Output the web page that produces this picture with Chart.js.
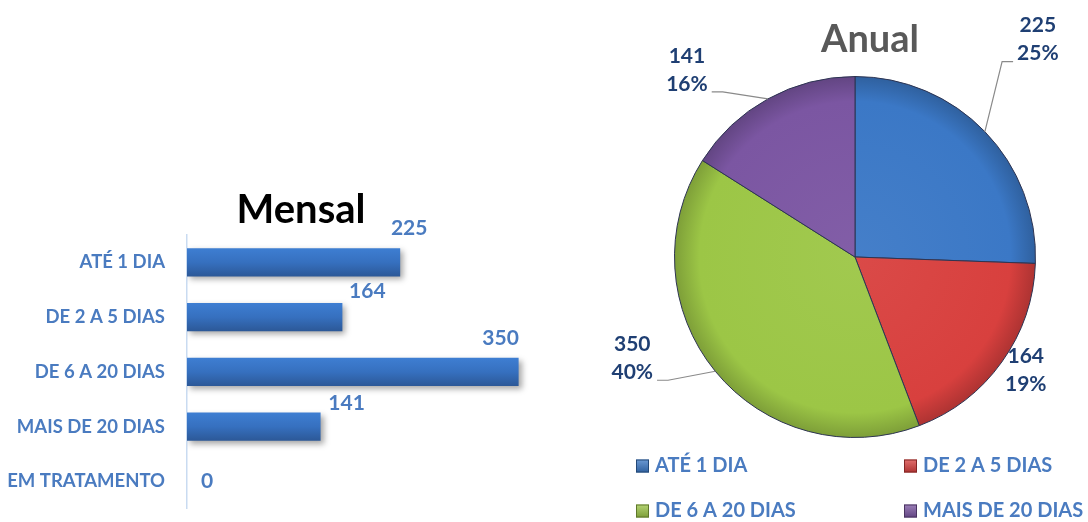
<!DOCTYPE html>
<html lang="pt">
<head>
<meta charset="utf-8">
<title>Mensal / Anual</title>
<script src="https://cdn.jsdelivr.net/npm/chart.js@4.4.1/dist/chart.umd.min.js"></script>
<style>
  html, body { margin: 0; padding: 0; background: #fff; }
  body { width: 1088px; height: 522px; position: relative; overflow: hidden; }
  #barBox { position: absolute; left: 0; top: 150px; width: 602px; height: 392px; }
  #pieBox { position: absolute; left: 600px; top: 0; width: 488px; height: 522px; }
</style>
</head>
<body>
<div id="barBox"><canvas id="mensalChart"></canvas></div>
<div id="pieBox"><canvas id="anualChart"></canvas></div>
<script>
// values
const mensalCategories = ['ATÉ 1 DIA', 'DE 2 A 5 DIAS', 'DE 6 A 20 DIAS', 'MAIS DE 20 DIAS', 'EM TRATAMENTO'];
const mensalValues = [225, 164, 350, 141, 0];
const mensalAxisMax = 438;

const anualCategories = ['ATÉ 1 DIA', 'DE 2 A 5 DIAS', 'DE 6 A 20 DIAS', 'MAIS DE 20 DIAS'];
const anualValues = [225, 164, 350, 141];
const anualPercents = ['25%', '19%', '40%', '16%'];
const anualColors = ['#3b78c6', '#d8403e', '#9cc646', '#7b56a2'];

const labelBlue = '#4a7bc0';
const navy = '#1f3f73';

Chart.defaults.font.family = 'Lato, "Open Sans", sans-serif';

// lighten (amt > 0) or darken (amt < 0) a hex colour
function shade(hex, amt) {
  const n = parseInt(hex.slice(1), 16);
  const ch = [(n >> 16) & 255, (n >> 8) & 255, n & 255].map(c =>
    Math.round(amt > 0 ? c + (255 - c) * amt : c * (1 + amt)));
  return 'rgb(' + ch.join(',') + ')';
}

function barFill(context) {
  const chart = context.chart;
  if (!chart.chartArea || context.dataIndex === undefined) return '#3670bd';
  const yScale = chart.scales.y;
  const y = yScale.getPixelForValue(context.dataIndex);
  const h = yScale.height / mensalCategories.length * 0.515 / 2;
  const g = chart.ctx.createLinearGradient(0, y - h, 0, y + h);
  g.addColorStop(0, '#3e7ed2');
  g.addColorStop(0.5, '#3670bf');
  g.addColorStop(1, '#2c5897');
  return g;
}

function pieFill(context) {
  const base = anualColors[context.dataIndex] || anualColors[0];
  const chart = context.chart;
  const area = chart.chartArea;
  if (!area || context.dataIndex === undefined) return base;
  const cx = (area.left + area.right) / 2, cy = (area.top + area.bottom) / 2;
  const r = Math.min(area.width, area.height) / 2;
  const g = chart.ctx.createRadialGradient(cx, cy, 0, cx, cy, r);
  g.addColorStop(0, shade(base, 0.05));
  g.addColorStop(0.86, base);
  g.addColorStop(1, shade(base, -0.2));
  return g;
}

// soft drop shadow under the bars
const barShadow = {
  id: 'barShadow',
  beforeDatasetsDraw(chart) {
    const ctx = chart.ctx;
    ctx.save();
    ctx.shadowColor = 'rgba(0,0,0,0.35)';
    ctx.shadowBlur = 6;
    ctx.shadowOffsetX = 3;
    ctx.shadowOffsetY = 3;
  },
  afterDatasetsDraw(chart) {
    chart.ctx.restore();
  }
};

// value above each bar
const barValueLabels = {
  id: 'barValueLabels',
  afterDraw(chart, args, opts) {
    const ctx = chart.ctx;
    const data = chart.data.datasets[0].data;
    ctx.save();
    ctx.font = opts.font;
    ctx.fillStyle = opts.color;
    ctx.textAlign = 'center';
    ctx.textBaseline = 'middle';
    chart.getDatasetMeta(0).data.forEach((bar, i) => {
      const off = opts.offsets[i] || [12, -30];
      ctx.fillText(String(data[i]), bar.x + off[0], bar.y + off[1]);
    });
    ctx.restore();
  }
};

const pieTitle = {
  id: 'pieTitle',
  afterDraw(chart, args, o) {
    const ctx = chart.ctx;
    ctx.save();
    ctx.font = o.font;
    ctx.fillStyle = o.color;
    ctx.textAlign = 'center';
    ctx.textBaseline = 'alphabetic';
    ctx.fillText(o.text, o.x, o.y);
    ctx.restore();
  }
};

// "value / percent" labels outside the slices, with leader lines
const pieLabels = {
  id: 'pieLabels',
  afterDraw(chart, args, o) {
    const ctx = chart.ctx;
    const data = chart.data.datasets[0].data;
    ctx.save();
    ctx.font = o.font;
    chart.getDatasetMeta(0).data.forEach((arc, i) => {
      const mid = (arc.startAngle + arc.endAngle) / 2;
      const ax = arc.x + Math.cos(mid) * arc.outerRadius;
      const ay = arc.y + Math.sin(mid) * arc.outerRadius;
      const [dx, dy] = o.offsets[i];
      const cx = ax + dx, cy = ay + dy;
      const lines = [String(data[i]), anualPercents[i]];
      const halfW = Math.max(...lines.map(t => ctx.measureText(t).width)) / 2;
      if (o.leaders[i]) {
        const side = dx >= 0 ? -1 : 1;
        const ex = cx + side * (halfW + 4), ey = cy + 22;
        ctx.strokeStyle = o.lineColor;
        ctx.lineWidth = 1.2;
        ctx.beginPath();
        ctx.moveTo(ax, ay);
        ctx.lineTo(ex + side * 11, ey);
        ctx.lineTo(ex, ey);
        ctx.stroke();
      }
      ctx.fillStyle = o.color;
      ctx.textAlign = 'center';
      ctx.textBaseline = 'middle';
      ctx.fillText(lines[0], cx, cy - o.lineHeight / 2);
      ctx.fillText(lines[1], cx, cy + o.lineHeight / 2);
    });
    ctx.restore();
  }
};

// 2 x 2 legend under the pie
const gridLegend = {
  id: 'gridLegend',
  afterDraw(chart, args, o) {
    const ctx = chart.ctx;
    ctx.save();
    ctx.font = o.font;
    ctx.textBaseline = 'middle';
    ctx.textAlign = 'left';
    chart.data.labels.forEach((text, i) => {
      const x = o.cols[i % 2], y = o.rows[Math.floor(i / 2)];
      const c = anualColors[i];
      const g = ctx.createLinearGradient(0, y - o.box / 2, 0, y + o.box / 2);
      g.addColorStop(0, shade(c, 0.25));
      g.addColorStop(1, shade(c, -0.2));
      ctx.fillStyle = g;
      ctx.fillRect(x, y - o.box / 2, o.box, o.box);
      ctx.strokeStyle = shade(c, -0.4);
      ctx.lineWidth = 1;
      ctx.strokeRect(x + 0.5, y - o.box / 2 + 0.5, o.box - 1, o.box - 1);
      ctx.fillStyle = o.color;
      ctx.fillText(text, x + o.box + o.gap, y);
    });
    ctx.restore();
  }
};

new Chart(document.getElementById('mensalChart'), {
  type: 'bar',
  data: {
    labels: mensalCategories,
    datasets: [{
      data: mensalValues,
      backgroundColor: barFill,
      borderWidth: 0,
      barPercentage: 0.515,
      categoryPercentage: 1
    }]
  },
  options: {
    indexAxis: 'y',
    responsive: true,
    maintainAspectRatio: false,
    animation: false,
    layout: { padding: { left: 0, right: 0, top: 0, bottom: 16 } },
    scales: {
      x: { display: false, min: 0, max: mensalAxisMax },
      y: {
        afterFit: scale => { scale.width = 187; },
        grid: { display: false, drawTicks: false },
        border: { color: '#c9dbf1', width: 1.5 },
        ticks: { color: labelBlue, font: { size: 18.5, weight: 'bold' }, padding: 22 }
      }
    },
    plugins: {
      legend: { display: false },
      tooltip: { enabled: false },
      title: {
        display: true,
        text: 'Mensal',
        color: '#000',
        font: { size: 40, weight: 'bold' },
        padding: { top: 36, bottom: 1 }
      },
      barValueLabels: {
        font: 'bold 21px Lato, sans-serif',
        color: labelBlue,
        offsets: [[9, -34], [25, -26], [-18, -34], [26, -23], [20, 0]]
      }
    }
  },
  plugins: [barShadow, barValueLabels]
});

new Chart(document.getElementById('anualChart'), {
  type: 'pie',
  data: {
    labels: anualCategories,
    datasets: [{
      data: anualValues,
      backgroundColor: pieFill,
      borderColor: '#2d3452',
      borderWidth: 1
    }]
  },
  options: {
    responsive: true,
    maintainAspectRatio: false,
    animation: false,
    layout: { padding: { left: 74, right: 52, top: 76, bottom: 84 } },
    plugins: {
      legend: { display: false },
      tooltip: { enabled: false },
      pieTitle: { text: 'Anual', x: 270, y: 52, font: 'bold 38px Lato, sans-serif', color: '#595959' },
      pieLabels: {
        font: 'bold 21px Lato, sans-serif',
        color: navy,
        lineHeight: 28,
        offsets: [[53, -92], [24, 8], [-83, -13], [-81, -29]],
        leaders: [true, false, true, true],
        lineColor: '#8a8a8a'
      },
      gridLegend: {
        font: 'bold 20px Lato, sans-serif',
        color: labelBlue,
        cols: [36, 304],
        rows: [466, 511],
        box: 13,
        gap: 6
      }
    }
  },
  plugins: [pieTitle, pieLabels, gridLegend]
});
</script>
</body>
</html>
